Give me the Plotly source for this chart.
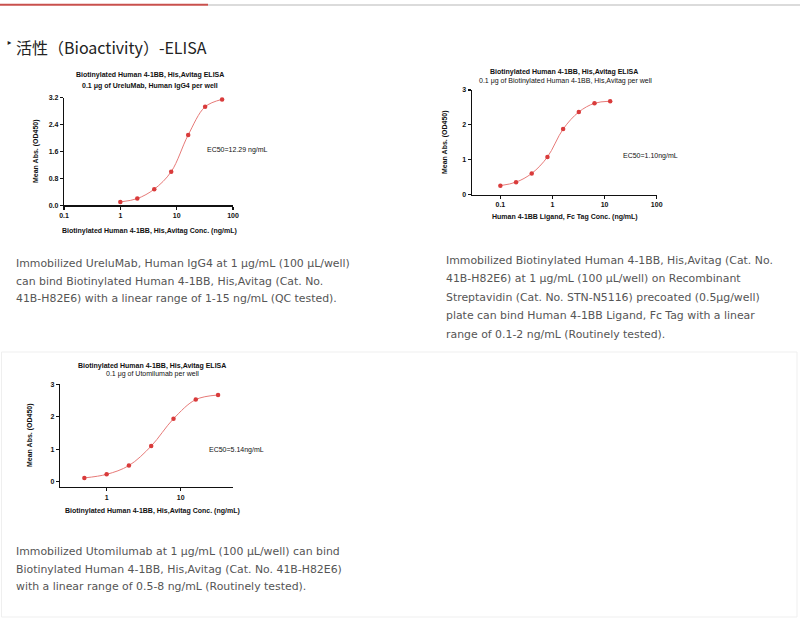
import plotly.graph_objects as go

W, H = 800, 621

# ---------------- data ----------------
conc1 = [1, 2, 4, 8, 16, 32, 64]
od1 = [0.10, 0.20, 0.48, 1.00, 2.09, 2.93, 3.15]

conc2 = [0.1, 0.2, 0.4, 0.8, 1.6, 3.2, 6.4, 12.8]
od2 = [0.26, 0.36, 0.61, 1.08, 1.88, 2.37, 2.62, 2.68]

conc3 = [0.5, 1, 2, 4, 8, 16, 32]
od3 = [0.12, 0.23, 0.50, 1.10, 1.94, 2.53, 2.67]

xticks1 = [0.1, 1, 10, 100]
xticklabels1 = ["0.1", "1", "10", "100"]
yticks1 = [0, 0.8, 1.6, 2.4, 3.2]
yticklabels1 = ["0.0", "0.8", "1.6", "2.4", "3.2"]

xticks2 = [0.1, 1, 10, 100]
xticklabels2 = ["0.1", "1", "10", "100"]
yticks2 = [0, 1, 2, 3]

xticks3 = [1, 10]
xticklabels3 = ["1", "10"]
yticks3 = [0, 1, 2, 3]

title_main = "Biotinylated Human 4-1BB, His,Avitag ELISA"
sub1 = "0.1 μg of UreluMab, Human IgG4 per well"
sub2 = "0.1 μg of Biotinylated Human 4-1BB, His,Avitag per well"
sub3 = "0.1 μg of Utomilumab per well"
xlab1 = "Biotinylated Human 4-1BB, His,Avitag Conc. (ng/mL)"
xlab2 = "Human 4-1BB Ligand, Fc Tag Conc. (ng/mL)"
xlab3 = "Biotinylated Human 4-1BB, His,Avitag Conc. (ng/mL)"
ylab = "Mean Abs. (OD450)"
ec1 = "EC50=12.29 ng/mL"
ec2 = "EC50=1.10ng/mL"
ec3 = "EC50=5.14ng/mL"

heading = "活性（Bioactivity）-ELISA"
para1 = ["Immobilized UreluMab, Human IgG4 at 1 μg/mL (100 μL/well)",
         "can bind Biotinylated Human 4-1BB, His,Avitag (Cat. No.",
         "41B-H82E6) with a linear range of 1-15 ng/mL (QC tested)."]
para2 = ["Immobilized Biotinylated Human 4-1BB, His,Avitag (Cat. No.",
         "41B-H82E6) at 1 μg/mL (100 μL/well) on Recombinant",
         "Streptavidin (Cat. No. STN-N5116) precoated (0.5μg/well)",
         "plate can bind Human 4-1BB Ligand, Fc Tag with a linear",
         "range of 0.1-2 ng/mL (Routinely tested)."]
para3 = ["Immobilized Utomilumab at 1 μg/mL (100 μL/well) can bind",
         "Biotinylated Human 4-1BB, His,Avitag (Cat. No. 41B-H82E6)",
         "with a linear range of 0.5-8 ng/mL (Routinely tested)."]

# ---------------- helpers ----------------
def px(x):
    return x / W

def py(y):
    return 1 - y / H

MARK = "#d93b3b"
LINE = "#e77a78"
AX_FONT = dict(family="Liberation Sans", size=7, color="#111", weight="bold")

fig = go.Figure()

for i, (xs, ys) in enumerate([(conc1, od1), (conc2, od2), (conc3, od3)], start=1):
    xa = "x" if i == 1 else f"x{i}"
    ya = "y" if i == 1 else f"y{i}"
    fig.add_trace(go.Scatter(x=xs, y=ys, mode="lines", xaxis=xa, yaxis=ya,
                             line=dict(color=LINE, width=1, shape="spline", smoothing=1.0),
                             hoverinfo="skip", showlegend=False))
    fig.add_trace(go.Scatter(x=xs, y=ys, mode="markers", xaxis=xa, yaxis=ya,
                             marker=dict(color=MARK, size=4.5),
                             cliponaxis=False, showlegend=False))

common_ax = dict(showline=True, linecolor="#111", linewidth=1.2, ticks="outside",
                 ticklen=3, tickwidth=1.1, tickcolor="#111", showgrid=False,
                 zeroline=False, tickfont=AX_FONT, fixedrange=True, automargin=False)

fig.update_layout(
    template="none",
    width=W, height=H, margin=dict(l=0, r=0, t=0, b=0, pad=0, autoexpand=False),
    paper_bgcolor="white", plot_bgcolor="white",
    xaxis=dict(type="log", domain=[px(64), px(233)], range=[-1, 2], anchor="y",
               tickvals=xticks1, ticktext=xticklabels1, **common_ax),
    yaxis=dict(domain=[py(205.3), py(97.7)], range=[0, 3.2], anchor="x",
               tickvals=yticks1, ticktext=yticklabels1, **common_ax),
    xaxis2=dict(type="log", domain=[px(471.7), px(656.7)], range=[-1.55, 2], anchor="y2",
                tickvals=xticks2, ticktext=xticklabels2, **common_ax),
    yaxis2=dict(domain=[py(194.7), py(90)], range=[0, 3], anchor="x2",
                tickvals=yticks2, **common_ax),
    xaxis3=dict(type="log", domain=[px(60), px(233)], range=[-0.63, 1.707], anchor="y3",
                tickvals=xticks3, ticktext=xticklabels3, **common_ax),
    yaxis3=dict(domain=[py(487), py(384.3)], range=[-0.16, 3], anchor="x3",
                tickvals=yticks3, **common_ax),
)

ann = []

def text(x, y, s, size=7, bold=False, color="#111", xanchor="center", family="Liberation Sans", angle=0):
    ann.append(dict(x=px(x), y=py(y), xref="paper", yref="paper", text=s, showarrow=False,
                    xanchor=xanchor, yanchor="middle", textangle=angle,
                    font=dict(family=family, size=size, color=color,
                              weight="bold" if bold else "normal")))

# chart 1 texts
text(150, 75, title_main, bold=True)
text(150, 86, sub1, bold=True)
text(149, 230.5, xlab1, bold=True)
text(36, 151, ylab, bold=True, angle=-90)
text(205, 150, ec1, xanchor="left")
# chart 2 texts
text(564, 72.5, title_main, bold=True)
text(565, 80.7, sub2)
text(565, 216.7, xlab2, bold=True)
text(445, 142, ylab, bold=True, angle=-90)
text(621, 156, ec2, xanchor="left")
# chart 3 texts
text(152, 366, title_main, bold=True)
text(152, 374.3, sub3)
text(152, 511, xlab3, bold=True)
text(30, 435, ylab, bold=True, angle=-90)
text(207, 450, ec3, xanchor="left")

# heading
text(4, 44, "‣", size=11, color="#222", xanchor="left", family="DejaVu Sans")
text(14, 47, heading, size=16, color="#222", xanchor="left", family="Noto Sans CJK SC")

PFONT = "DejaVu Sans"
PCOL = "#555555"
PSIZE = 10.9
for k, line in enumerate(para1):
    text(13.5, 263 + 18 * k, line, size=PSIZE, color=PCOL, xanchor="left", family=PFONT)
for k, line in enumerate(para2):
    text(443.5, 260 + 18.6 * k, line, size=PSIZE, color=PCOL, xanchor="left", family=PFONT)
for k, line in enumerate(para3):
    text(13.5, 551.7 + 17.5 * k, line, size=PSIZE, color=PCOL, xanchor="left", family=PFONT)

fig.update_layout(annotations=ann)

shapes = [
    dict(type="line", xref="paper", yref="paper", x0=0, x1=px(208), y0=py(4.8), y1=py(4.8),
         line=dict(color="#c9504d", width=2)),
    dict(type="line", xref="paper", yref="paper", x0=px(208), x1=1, y0=py(5), y1=py(5),
         line=dict(color="#cfcfcf", width=1.3)),
    dict(type="rect", xref="paper", yref="paper", x0=px(1.5), x1=px(797), y0=py(617), y1=py(352),
         line=dict(color="#efefef", width=1)),
]
fig.update_layout(shapes=shapes)

fig.write_html("out.html", config={"displayModeBar": False, "staticPlot": True},
               post_script="document.body.style.margin='0';document.body.style.overflow='hidden';")
